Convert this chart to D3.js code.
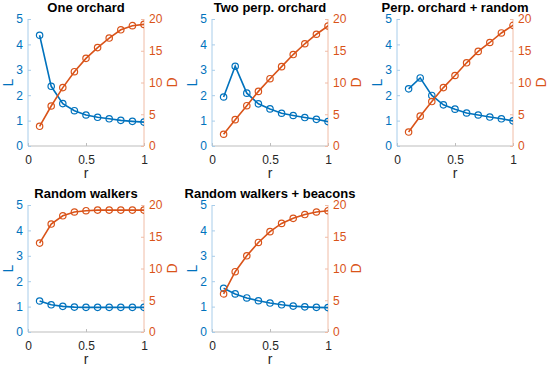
<!DOCTYPE html>
<html>
<head>
<meta charset="utf-8">
<script src="https://cdn.jsdelivr.net/npm/d3@7"></script>
<style>
  body { margin: 0; background: #fff; }
  svg { font-family: "Liberation Sans", Arial, sans-serif; }
  .tick text { font-size: 12px; }
</style>
</head>
<body>
<div id="chart"></div>
<script>
// r values; panels 2, 3 and 5 run past r = 1 and get clipped at the axis edge
var rShort = [0.1, 0.2, 0.3, 0.4, 0.5, 0.6, 0.7, 0.8, 0.9, 1.0];
var rLong = [0.1, 0.2, 0.3, 0.4, 0.5, 0.6, 0.7, 0.8, 0.9, 1.0, 1.1];

var titles = ["One orchard", "Two perp. orchard", "Perp. orchard + random",
              "Random walkers", "Random walkers + beacons"];

var L1 = [4.36, 2.35, 1.67, 1.39, 1.22, 1.13, 1.07, 1.01, 0.97, 0.94];
var D1 = [3.1, 6.3, 9.2, 11.7, 13.8, 15.5, 17.0, 18.3, 18.95, 19.15];

var L2 = [1.93, 3.14, 2.08, 1.66, 1.46, 1.29, 1.20, 1.12, 1.05, 0.96, 0.87];
var D2 = [1.85, 4.15, 6.35, 8.6, 10.6, 12.5, 14.4, 16.1, 17.6, 18.9, 20.2];

var L3 = [2.25, 2.68, 1.99, 1.62, 1.45, 1.30, 1.22, 1.14, 1.07, 0.99, 0.91];
var D3 = [2.2, 4.7, 7.0, 9.2, 11.1, 13.1, 14.9, 16.3, 17.8, 19.0, 20.2];

var L4 = [1.22, 1.07, 1.01, 0.98, 0.97, 0.97, 0.97, 0.97, 0.97, 0.97];
var D4 = [14.0, 17.0, 18.3, 18.9, 19.1, 19.2, 19.2, 19.2, 19.2, 19.2];

var L5 = [1.72, 1.50, 1.34, 1.23, 1.14, 1.07, 1.02, 0.99, 0.97, 0.96, 0.95];
var D5 = [6.0, 9.5, 12.0, 14.1, 15.8, 17.1, 17.9, 18.5, 18.9, 19.1, 19.3];

var xTicks = [0, 0.5, 1];
var lTicks = [0, 1, 2, 3, 4, 5];
var dTicks = [0, 5, 10, 15, 20];

var panels = [
  {r: rShort, L: L1, D: D1, x: 28, y: 19},
  {r: rLong, L: L2, D: D2, x: 212, y: 19},
  {r: rLong, L: L3, D: D3, x: 397, y: 19},
  {r: rShort, L: L4, D: D4, x: 28, y: 205},
  {r: rLong, L: L5, D: D5, x: 212, y: 205}
];

var blue = "#0072BD", orange = "#D95319";
var pw = 116, ph = 127;

var svg = d3.select("#chart").append("svg")
    .attr("width", 550)
    .attr("height", 368);

panels.forEach(function(p, i) {
    var x = d3.scaleLinear().domain([0, 1]).range([0, pw]);
    var yL = d3.scaleLinear().domain([0, 5]).range([ph, 0]);
    var yD = d3.scaleLinear().domain([0, 20]).range([ph, 0]);

    var g = svg.append("g").attr("transform", "translate(" + p.x + "," + p.y + ")");

    g.append("clipPath").attr("id", "clip" + i)
      .append("rect").attr("x", -5).attr("y", -5).attr("width", pw + 5).attr("height", ph + 10);

    // axes
    var ax = g.append("g").attr("transform", "translate(0," + ph + ")")
        .call(d3.axisBottom(x).tickValues(xTicks).tickFormat(d3.format("")).tickSize(-3).tickPadding(9));
    ax.select(".domain").attr("stroke", "#bdbdbd").attr("d", "M0,0H" + pw);
    ax.selectAll(".tick line").attr("stroke", "#bdbdbd");
    ax.selectAll("text").attr("fill", "#262626");

    var al = g.append("g")
        .call(d3.axisLeft(yL).tickValues(lTicks).tickFormat(d3.format("d")).tickSize(-3).tickPadding(5));
    al.select(".domain").attr("stroke", "#a8cdea").attr("d", "M0," + ph + "V0");
    al.selectAll(".tick line").attr("stroke", "#a8cdea");
    al.selectAll("text").attr("fill", blue);

    var ar = g.append("g").attr("transform", "translate(" + pw + ",0)")
        .call(d3.axisRight(yD).tickValues(dTicks).tickSize(-3).tickPadding(5));
    ar.select(".domain").attr("stroke", "#f0bca6").attr("d", "M0," + ph + "V0");
    ar.selectAll(".tick line").attr("stroke", "#f0bca6");
    ar.selectAll("text").attr("fill", orange);

    // labels
    g.append("text").attr("x", pw / 2).attr("y", -7)
      .attr("text-anchor", "middle").attr("font-weight", "bold").attr("font-size", 13)
      .attr("fill", "#000").text(titles[i]);
    g.append("text").attr("x", pw / 2).attr("y", ph + 32)
      .attr("text-anchor", "middle").attr("font-size", 14).attr("fill", "#262626").text("r");
    g.append("text").attr("transform", "translate(-15," + (ph / 2) + ") rotate(-90)")
      .attr("text-anchor", "middle").attr("font-size", 14).attr("fill", blue).text("L");
    g.append("text").attr("transform", "translate(" + (pw + 33) + "," + (ph / 2) + ") rotate(-90)")
      .attr("text-anchor", "middle").attr("font-size", 14).attr("fill", orange).text("D");

    var plot = g.append("g").attr("clip-path", "url(#clip" + i + ")");

    [[p.L, yL, blue], [p.D, yD, orange]].forEach(function(s) {
        var pts = p.r.map(function(r, j) { return [r, s[0][j]]; });
        var line = d3.line().x(function(d) { return x(d[0]); }).y(function(d) { return s[1](d[1]); });
        plot.append("path").datum(pts).attr("d", line)
          .attr("fill", "none").attr("stroke", s[2]).attr("stroke-width", 1.6);
        plot.selectAll(null).data(pts).enter().append("circle")
          .attr("cx", function(d) { return x(d[0]); })
          .attr("cy", function(d) { return s[1](d[1]); })
          .attr("r", 3.2)
          .attr("fill", "none").attr("stroke", s[2]).attr("stroke-width", 1.2);
    });
});
</script>
</body>
</html>
